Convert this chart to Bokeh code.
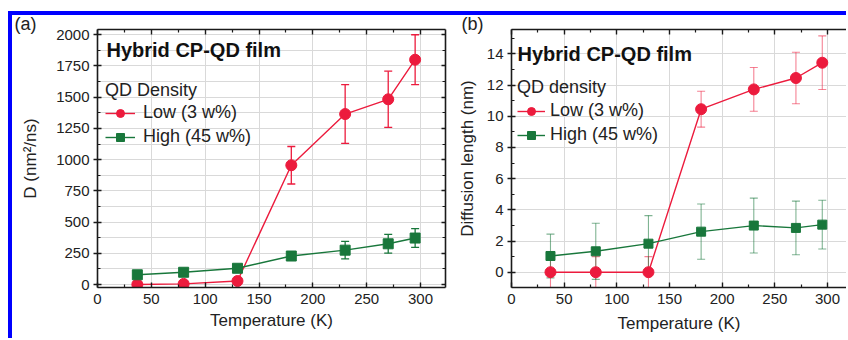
from bokeh.plotting import figure
from bokeh.models import (ColumnDataSource, Whisker, TeeHead, Legend, LegendItem, Label,
                          LinearAxis, FixedTicker, Range1d, Title)
from bokeh.layouts import row
from bokeh.embed import file_html
from bokeh.resources import INLINE

# ---------------- data ----------------
temperature = [37, 80, 130, 180, 230, 270, 295]

# panel (a): diffusion coefficient D (nm^2/ns)
d_low = [0, 5, 28, 955, 1365, 1483, 1800]
d_low_err = [12, 12, 15, 150, 235, 225, 200]
d_high = [78, 98, 130, 228, 275, 326, 372]
d_high_err = [15, 15, 15, 35, 70, 75, 75]

# panel (b): diffusion length (nm)
l_low = [0, 0, 0, 10.45, 11.72, 12.45, 13.43]
l_low_err = [1.0, 1.0, 1.0, 1.15, 1.4, 1.65, 1.72]
l_high = [1.04, 1.34, 1.83, 2.6, 2.99, 2.84, 3.05]
l_high_err = [1.4, 1.8, 1.8, 1.77, 1.76, 1.72, 1.56]

x_ticks = [0, 50, 100, 150, 200, 250, 300]
d_ticks = [0, 250, 500, 750, 1000, 1250, 1500, 1750, 2000]
l_ticks = [0, 2, 4, 6, 8, 10, 12, 14]

low_label = "Low (3 w%)"
high_label = "High (45 w%)"

FONT = "Liberation Sans"
RED = "#ec1b3d"
GREEN = "#18773b"
AXC = "#1a1a1a"
GRID = "#d9d9d9"
TXT = "#222222"

TAG_STANDOFF = -9
try:
    Title(text="x", standoff=TAG_STANDOFF)
except Exception:
    TAG_STANDOFF = 0


def minors(ticks):
    step = ticks[1] - ticks[0]
    return [(a + b) / 2 for a, b in zip(ticks, ticks[1:])] + [ticks[-1] + step / 2]


def style_axis(ax, tin, tout, mtin, mtout):
    ax.axis_line_width = 1.6
    ax.axis_line_color = AXC
    ax.major_tick_line_color = AXC
    ax.minor_tick_line_color = AXC
    ax.major_tick_line_width = 1.4
    ax.minor_tick_line_width = 1.2
    ax.major_tick_in = tin
    ax.major_tick_out = tout
    ax.minor_tick_in = mtin
    ax.minor_tick_out = mtout
    ax.major_label_text_font = FONT
    ax.major_label_text_font_size = "15px"
    ax.major_label_text_color = TXT
    ax.axis_label_text_font = FONT
    ax.axis_label_text_font_size = "17px"
    ax.axis_label_text_font_style = "normal"
    ax.axis_label_text_color = TXT


def err_source(x, y, e):
    return ColumnDataSource(dict(x=x, lower=[v - d for v, d in zip(y, e)],
                                 upper=[v + d for v, d in zip(y, e)]))


def add_series(p, x, y, e, color, marker, size, err_alpha, err_width):
    src = ColumnDataSource(dict(x=x, y=y))
    w = Whisker(source=err_source(x, y, e), base="x", lower="lower", upper="upper",
                line_color=color, line_alpha=err_alpha, line_width=err_width,
                upper_head=TeeHead(size=8, line_color=color, line_alpha=err_alpha, line_width=err_width),
                lower_head=TeeHead(size=8, line_color=color, line_alpha=err_alpha, line_width=err_width))
    p.add_layout(w)
    ln = p.line("x", "y", source=src, line_color=color, line_width=1.4)
    sc = p.scatter("x", "y", source=src, marker=marker, size=size, fill_color=color,
                   line_color=color)
    return [ln, sc]


def make_panel(width, y_range, x_end, mb_left, mb_right, mb_bottom, ylabel, yticks,
               minor_grid, right_axis, ystand, xstand, title_xy, tag, tag_offset, legend_title,
               legend_xy, glyph_w, lab_std, title_std,
               low, low_e, high, high_e, circ, sq, err_alpha, err_width):
    p = figure(width=width, height=323, x_range=Range1d(0, x_end), y_range=Range1d(*y_range),
               output_backend="svg", toolbar_location=None,
               min_border_left=mb_left, min_border_right=mb_right,
               min_border_top=14, min_border_bottom=mb_bottom,
               x_axis_label="Temperature (K)", y_axis_label=ylabel)
    p.outline_line_color = None
    xt = FixedTicker(ticks=x_ticks, minor_ticks=minors(x_ticks))
    yt = FixedTicker(ticks=yticks, minor_ticks=minors(yticks))
    p.xaxis.ticker = xt
    p.yaxis.ticker = yt
    style_axis(p.xaxis[0], 5, 0, 3, 0)
    style_axis(p.yaxis[0], 4, 4, 3, 0)
    p.xaxis.major_label_standoff = 6
    p.xaxis.axis_label_standoff = xstand
    p.yaxis.major_label_standoff = 4
    p.yaxis.axis_label_standoff = ystand

    top = LinearAxis(ticker=FixedTicker(ticks=x_ticks, minor_ticks=minors(x_ticks)),
                     major_label_overrides={t: "" for t in x_ticks})
    style_axis(top, 5, 0, 3, 0)
    top.major_label_standoff = 0
    p.add_layout(top, "above")
    if right_axis:
        rt = LinearAxis(ticker=FixedTicker(ticks=yticks, minor_ticks=minors(yticks)),
                        major_label_overrides={t: "" for t in yticks})
        style_axis(rt, 4, 0, 3, 0)
        rt.major_label_standoff = 0
        p.add_layout(rt, "right")

    p.xgrid.grid_line_color = GRID
    p.ygrid.grid_line_color = GRID
    p.xgrid.ticker = xt
    p.ygrid.ticker = yt
    if minor_grid:
        p.ygrid.minor_grid_line_color = GRID

    r_low = add_series(p, temperature, low, low_e, RED, "circle", circ, err_alpha, err_width)
    r_high = add_series(p, temperature, high, high_e, GREEN, "square", sq, err_alpha, err_width)

    p.add_layout(Label(x=title_xy[0], y=title_xy[1], x_units="screen", y_units="screen",
                       text="Hybrid CP-QD film", text_font=FONT, text_font_size="20px",
                       text_font_style="bold", text_color="#111111",
                       text_baseline="alphabetic"))

    p.add_layout(Title(text=tag, align="left", offset=tag_offset, standoff=TAG_STANDOFF,
                       text_font=FONT, text_font_size="18px", text_font_style="normal",
                       text_color=TXT), "above")

    leg = Legend(items=[LegendItem(label=low_label, renderers=r_low),
                        LegendItem(label=high_label, renderers=r_high)],
                 location=legend_xy, title=legend_title,
                 title_text_font=FONT, title_text_font_size="18px",
                 title_text_font_style="normal", title_text_color=TXT,
                 title_standoff=title_std,
                 label_text_font=FONT, label_text_font_size="18px", label_text_color=TXT,
                 glyph_width=glyph_w, glyph_height=20, label_standoff=lab_std,
                 spacing=3, padding=0, margin=0,
                 border_line_color=None, background_fill_alpha=0)
    p.add_layout(leg)
    return p


pa = make_panel(width=442, y_range=(-24, 2042), x_end=323.2, mb_left=85, mb_right=9,
                mb_bottom=46, ylabel="D (nm\u00b2/ns)", yticks=d_ticks, minor_grid=True,
                right_axis=True, ystand=13, xstand=4, title_xy=(9, 238),
                tag="(a)", tag_offset=-83,
                legend_title="QD Density", legend_xy=(8, 140),
                glyph_w=30, lab_std=8, title_std=1,
                low=d_low, low_e=d_low_err, high=d_high, high_e=d_high_err,
                circ=11, sq=10, err_alpha=1.0, err_width=1.3)

pb = make_panel(width=392, y_range=(-0.98, 15.56), x_end=318, mb_left=52, mb_right=0,
                mb_bottom=51, ylabel="Diffusion length (nm)", yticks=l_ticks, minor_grid=False,
                right_axis=False, ystand=7, xstand=7, title_xy=(6, 234),
                tag="(b)", tag_offset=-50,
                legend_title="QD density", legend_xy=(6, 142),
                glyph_w=28, lab_std=5, title_std=2,
                low=l_low, low_e=l_low_err, high=l_high, high_e=l_high_err,
                circ=11, sq=9, err_alpha=0.55, err_width=1.1)

layout = row(pa, pb, margin=(11, 0, 0, 8),
             styles={"border-top": "4px solid #0000ff", "border-left": "4px solid #0000ff"})

open("out.html", "w").write(file_html(layout, INLINE))
